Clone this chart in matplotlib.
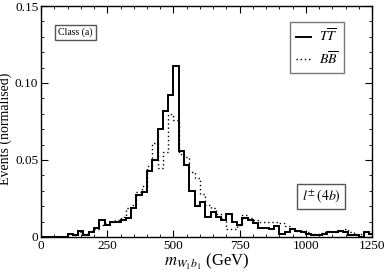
import matplotlib
matplotlib.use("Agg")
import matplotlib.pyplot as plt
import numpy as np
from matplotlib.ticker import MultipleLocator

plt.rcParams["font.family"] = ["Liberation Serif", "DejaVu Serif"]
plt.rcParams["mathtext.fontset"] = "stix"

bin_edges = np.arange(0, 1261, 20)

tt_values = [
    0, 0, 0, 0, 0,
    0.002, 0.001, 0.004, 0.001, 0.003,
    0.006, 0.011, 0.008, 0.010, 0.010,
    0.011, 0.012, 0.019, 0.027, 0.029,
    0.043, 0.050, 0.070, 0.082, 0.092,
    0.111, 0.056, 0.047, 0.030, 0.020,
    0.023, 0.013, 0.016, 0.013, 0.011,
    0.015, 0.010, 0.008, 0.012, 0.011,
    0.009, 0.006, 0.006, 0.005, 0.007,
    0.002, 0.003, 0.005, 0.004, 0.003,
    0.002, 0.001, 0.001, 0.002, 0.003,
    0.003, 0.004, 0.003, 0.001, 0.001,
    0.000, 0.003, 0.002,
]

bb_values = [
    0, 0, 0, 0, 0,
    0.002, 0.001, 0.003, 0.002, 0.004,
    0.005, 0.008, 0.009, 0.010, 0.011,
    0.013, 0.019, 0.021, 0.029, 0.033,
    0.046, 0.061, 0.045, 0.055, 0.080,
    0.076, 0.054, 0.052, 0.042, 0.038,
    0.028, 0.021, 0.019, 0.015, 0.012,
    0.005, 0.005, 0.008, 0.014, 0.012,
    0.011, 0.010, 0.010, 0.010, 0.010,
    0.009, 0.007, 0.005, 0.004, 0.003,
    0.003, 0.002, 0.002, 0.003, 0.004,
    0.003, 0.004, 0.005, 0.003, 0.002,
    0.002, 0.003, 0.002,
]


def main():
    fig = plt.figure(figsize=(3.84, 2.73), dpi=100)
    ax = fig.add_axes([0.107, 0.132, 0.862, 0.846])

    ax.stairs(tt_values, bin_edges, color="black", lw=1.4,
              label=r"$T\overline{T}$")
    ax.stairs(bb_values, bin_edges, color="black", lw=1.0, ls=(0, (1, 2)),
              label=r"$B\overline{B}$")

    ax.set_xlim(0, 1250)
    ax.set_ylim(0, 0.15)
    ax.xaxis.set_major_locator(MultipleLocator(250))
    ax.xaxis.set_minor_locator(MultipleLocator(50))
    ax.yaxis.set_minor_locator(MultipleLocator(0.01))
    ax.set_yticks([0, 0.05, 0.10, 0.15])
    ax.set_yticklabels(["0", "0.05", "0.10", "0.15"])
    ax.tick_params(which="both", direction="in", top=True, right=True,
                   labelsize=9.5, pad=2)
    ax.tick_params(which="major", length=5, width=0.8)
    ax.tick_params(which="minor", length=2.5, width=0.6)
    for sp in ax.spines.values():
        sp.set_linewidth(1.0)

    ax.set_xlabel(r"$m_{W_1 b_1}$ (GeV)", fontsize=12, labelpad=0)
    ax.set_ylabel("Events (normalised)", fontsize=10)
    ax.yaxis.set_label_coords(-0.088, 0.47)

    leg = ax.legend(loc="upper right", bbox_to_anchor=(0.915, 0.93),
                    borderaxespad=0, fontsize=10, handlelength=1.1,
                    handletextpad=0.6, borderpad=0.4, labelspacing=0.35,
                    fancybox=False, edgecolor="#555555")
    leg.get_frame().set_linewidth(1.0)

    box = dict(boxstyle="square,pad=0.3", fc="white", ec="#555555", lw=1.0)
    ax.text(0.052, 0.885, "Class (a)", transform=ax.transAxes, fontsize=7,
            va="center", ha="left", bbox=box)
    ax.text(0.846, 0.175, r"$l^{\pm}\,(4b)$", transform=ax.transAxes,
            fontsize=10, va="center", ha="center", bbox=box)

    fig.savefig("out.png", dpi=100)


if __name__ == "__main__":
    main()
